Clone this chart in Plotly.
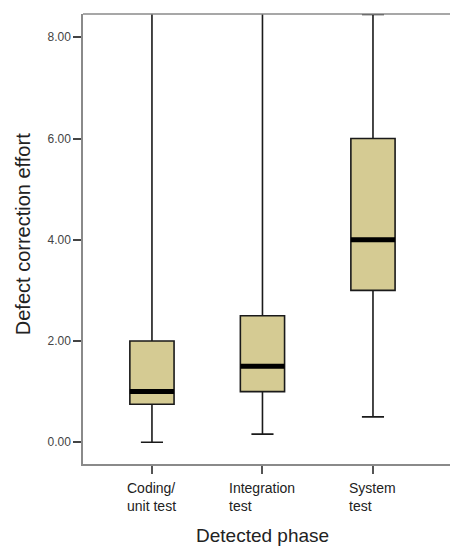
import plotly.graph_objects as go

categories = ["Coding/<br>unit test", "Integration<br>test", "System<br>test"]
q1 = [0.75, 1.0, 3.0]
median = [1.0, 1.5, 4.0]
q3 = [2.0, 2.5, 6.0]
lower_whisker = [0.0, 0.16, 0.5]
upper_whisker = [12.0, 12.0, 8.45]
y_ticks = [0, 2, 4, 6, 8]

fill = "#D5CB93"
fig = go.Figure()
fig.add_trace(go.Box(
    x=categories, q1=q1, median=median, q3=q3,
    lowerfence=lower_whisker, upperfence=upper_whisker,
    fillcolor=fill, line=dict(color="#1a1a1a", width=1.6),
    width=0.4, whiskerwidth=0.5, boxpoints=False, showlegend=False,
    hoverinfo="skip",
))
# thick median bars
fig.add_trace(go.Box(
    x=categories, q1=median, median=median, q3=median,
    lowerfence=median, upperfence=median,
    fillcolor="black", line=dict(color="black", width=5),
    width=0.4, whiskerwidth=0, boxpoints=False, showlegend=False,
    hoverinfo="skip",
))

font = "Liberation Sans, Arial, sans-serif"
annotations = [
    dict(text="Defect correction effort", xref="paper", yref="paper",
         x=-0.163, y=0.511, textangle=-90, showarrow=False,
         xanchor="center", yanchor="middle",
         font=dict(size=20, color="#222", family=font)),
    dict(text="Detected phase", xref="paper", yref="paper",
         x=0.49, y=-0.158, showarrow=False,
         xanchor="center", yanchor="middle",
         font=dict(size=19, color="#222", family=font)),
]
for c in categories:
    annotations.append(dict(text=c, x=c, xref="x", yref="paper", y=-0.03,
                            showarrow=False, xanchor="center", yanchor="top",
                            align="left",
                            font=dict(size=14, color="#222", family=font)))

fig.update_layout(
    width=450, height=549,
    margin=dict(l=83, r=0, t=14, b=85),
    paper_bgcolor="white", plot_bgcolor="white",
    boxmode="overlay",
    font=dict(family=font, color="#222"),
    xaxis=dict(
        range=[-0.624, 2.697], showgrid=False, zeroline=False,
        showline=True, linecolor="#8a8a8a", linewidth=1.5, mirror=False,
        ticks="outside", ticklen=8, tickwidth=2, tickcolor="#555",
        showticklabels=False,
    ),
    yaxis=dict(
        range=[-0.43, 8.46], showgrid=False, zeroline=False,
        showline=True, linecolor="#8a8a8a", linewidth=1.5, mirror=False,
        ticks="outside", ticklen=8, tickwidth=1.5, tickcolor="#444",
        tickvals=y_ticks, tickformat=".2f",
        tickfont=dict(size=12, color="#444", family=font),
    ),
    shapes=[dict(type="line", xref="paper", yref="paper", x0=0, x1=1, y0=1, y1=1,
                 line=dict(color="#8a8a8a", width=1.5))],
    annotations=annotations,
)
fig.write_html("out.html")
